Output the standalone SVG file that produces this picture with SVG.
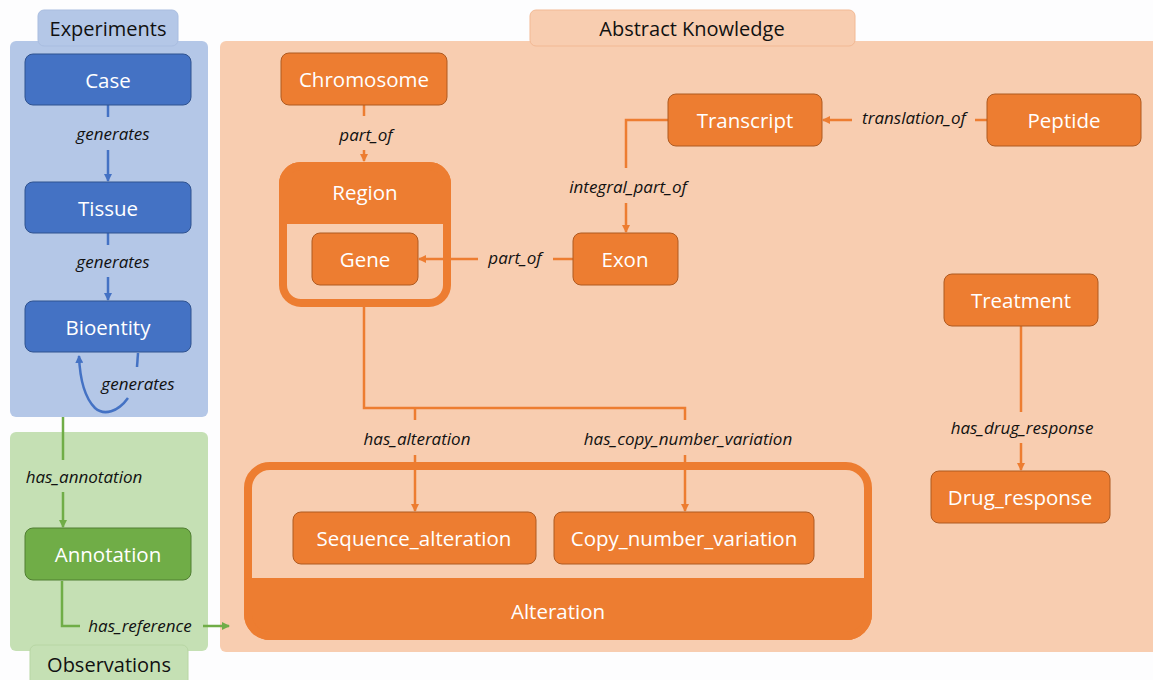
<svg xmlns="http://www.w3.org/2000/svg" width="1153" height="680" viewBox="0 0 1153 680">
<style>
.nt{font-family:"Open Sans",Lato,sans-serif;font-size:20.5px;fill:#fff;text-anchor:middle;dominant-baseline:central}
.lb{font-family:"Open Sans",Lato,sans-serif;font-size:17px;font-style:italic;fill:#111;text-anchor:middle;dominant-baseline:central}
.tt{font-family:"Open Sans",Lato,sans-serif;font-size:20px;fill:#111;text-anchor:middle;dominant-baseline:central}
.bn{fill:#4472c4;stroke:#2f528f;stroke-width:1}
.gn{fill:#70ad47;stroke:#507e32;stroke-width:1}
.on{fill:#ed7d31;stroke:#ae5a21;stroke-width:1}
.cb{fill:none;stroke:#4472c4;stroke-width:2.5}
.cg{fill:none;stroke:#70ad47;stroke-width:2.5}
.co{fill:none;stroke:#ed7d31;stroke-width:2.5}
</style>
<defs>
<marker id="ab" markerWidth="8" markerHeight="8" refX="7" refY="4" orient="auto" markerUnits="userSpaceOnUse"><path d="M0,0 L8,4 L0,8 Z" fill="#4472c4"/></marker>
<marker id="ag" markerWidth="8" markerHeight="8" refX="7" refY="4" orient="auto" markerUnits="userSpaceOnUse"><path d="M0,0 L8,4 L0,8 Z" fill="#70ad47"/></marker>
<marker id="ao" markerWidth="8" markerHeight="8" refX="7" refY="4" orient="auto" markerUnits="userSpaceOnUse"><path d="M0,0 L8,4 L0,8 Z" fill="#ed7d31"/></marker>
</defs>
<rect width="1153" height="680" fill="#fdfdfe"/>
<g id="panels">
<rect x="10" y="41" width="198" height="376" rx="6" fill="#b4c7e7"/>
<rect x="38" y="10" width="140" height="36" rx="6" fill="#b4c7e7" stroke="#a9bde0" stroke-width="1"/>
<text class="tt" x="108" y="28">Experiments</text>
<rect x="10" y="432" width="198" height="219" rx="6" fill="#c5e0b4"/>
<rect x="30" y="645" width="158" height="45" rx="6" fill="#c5e0b4" stroke="#b8d6a4" stroke-width="1"/>
<text class="tt" x="109" y="664">Observations</text>
<rect x="220" y="41" width="940" height="611" rx="6" fill="#f8cdb0"/>
<rect x="530" y="10" width="325" height="36" rx="6" fill="#f8cdb0" stroke="#f2b994" stroke-width="1"/>
<text class="tt" x="692" y="28">Abstract Knowledge</text>
</g>
<g id="connectors">
<path class="cb" d="M108,105 V117"/><path class="cb" d="M108,150 V181" marker-end="url(#ab)"/>
<text class="lb" x="113" y="133">generates</text>
<path class="cb" d="M108,233 V245"/><path class="cb" d="M108,277 V300" marker-end="url(#ab)"/>
<text class="lb" x="113" y="261">generates</text>
<path class="cb" d="M138,353 L137,367"/>
<path class="cb" d="M128,398 C118,412 104,416 95,408 C86,399 80,382 79,356" marker-end="url(#ab)"/>
<text class="lb" x="138" y="383">generates</text>
<path class="cg" d="M63,417 V460"/><path class="cg" d="M63,492 V527" marker-end="url(#ag)"/>
<text class="lb" x="84" y="476">has_annotation</text>
<path class="cg" d="M62,581 V626 H80"/><path class="cg" d="M203,626 H229" marker-end="url(#ag)"/>
<text class="lb" x="140" y="625">has_reference</text>
<path class="co" d="M364,105 V116"/><path class="co" d="M364,150 V161" marker-end="url(#ao)"/>
<text class="lb" x="366" y="134">part_of</text>
<path class="co" d="M668,120 H626 V168"/><path class="co" d="M626,203 V232" marker-end="url(#ao)"/>
<text class="lb" x="628" y="186">integral_part_of</text>
<path class="co" d="M987,120 H975"/><path class="co" d="M852,120 H823" marker-end="url(#ao)"/>
<text class="lb" x="914" y="117">translation_of</text>
<path class="co" d="M573,259 H553"/><path class="co" d="M478,259 H419" marker-end="url(#ao)"/>
<text class="lb" x="515" y="257">part_of</text>
<path class="co" d="M364,307 V408 H685 V420 M415,408 V420"/>
<path class="co" d="M415,455 V511" marker-end="url(#ao)"/><path class="co" d="M685,455 V511" marker-end="url(#ao)"/>
<text class="lb" x="417" y="438">has_alteration</text>
<text class="lb" x="688" y="438">has_copy_number_variation</text>
<path class="co" d="M1021,326 V412"/><path class="co" d="M1021,443 V470" marker-end="url(#ao)"/>
<text class="lb" x="1022" y="427">has_drug_response</text>
</g>
<g id="case"><rect class="bn" x="25" y="54" width="166" height="51" rx="8"/><text class="nt" x="108" y="80">Case</text></g>
<g id="tissue"><rect class="bn" x="25" y="182" width="166" height="51" rx="8"/><text class="nt" x="108" y="208">Tissue</text></g>
<g id="bioentity"><rect class="bn" x="25" y="301" width="166" height="51" rx="8"/><text class="nt" x="108" y="327">Bioentity</text></g>
<g id="annotation"><rect class="gn" x="25" y="528" width="166" height="52" rx="8"/><text class="nt" x="108" y="554">Annotation</text></g>
<g id="chromosome"><rect class="on" x="281" y="53" width="166" height="52" rx="8"/><text class="nt" x="364" y="79">Chromosome</text></g>
<g id="region">
<rect x="283" y="166" width="164" height="137" rx="18" fill="none" stroke="#ed7d31" stroke-width="8"/>
<path d="M283,184 A18,18 0 0 1 301,166 H429 A18,18 0 0 1 447,184 V220 H283 Z" fill="#ed7d31" stroke="#ed7d31" stroke-width="8" stroke-linejoin="round"/>
<text class="nt" x="365" y="192">Region</text>
</g>
<g id="gene"><rect class="on" x="312" y="233" width="106" height="52" rx="8"/><text class="nt" x="365" y="259">Gene</text></g>
<g id="exon"><rect class="on" x="573" y="233" width="105" height="52" rx="8"/><text class="nt" x="625" y="259">Exon</text></g>
<g id="transcript"><rect class="on" x="668" y="94" width="154" height="52" rx="8"/><text class="nt" x="745" y="120">Transcript</text></g>
<g id="peptide"><rect class="on" x="987" y="94" width="154" height="52" rx="8"/><text class="nt" x="1064" y="120">Peptide</text></g>
<g id="treatment"><rect class="on" x="944" y="274" width="154" height="52" rx="8"/><text class="nt" x="1021" y="300">Treatment</text></g>
<g id="drug_response"><rect class="on" x="931" y="471" width="179" height="52" rx="8"/><text class="nt" x="1020" y="497">Drug_response</text></g>
<g id="alteration">
<rect x="248" y="466" width="620" height="170" rx="22" fill="none" stroke="#ed7d31" stroke-width="8"/>
<path d="M248,582 H868 V614 A22,22 0 0 1 846,636 H270 A22,22 0 0 1 248,614 Z" fill="#ed7d31" stroke="#ed7d31" stroke-width="8" stroke-linejoin="round"/>
<text class="nt" x="558" y="611">Alteration</text>
</g>
<g id="sequence_alteration"><rect class="on" x="293" y="512" width="243" height="52" rx="8"/><text class="nt" x="414" y="538">Sequence_alteration</text></g>
<g id="copy_number_variation"><rect class="on" x="554" y="512" width="260" height="52" rx="8"/><text class="nt" x="684" y="538">Copy_number_variation</text></g>
</svg>
